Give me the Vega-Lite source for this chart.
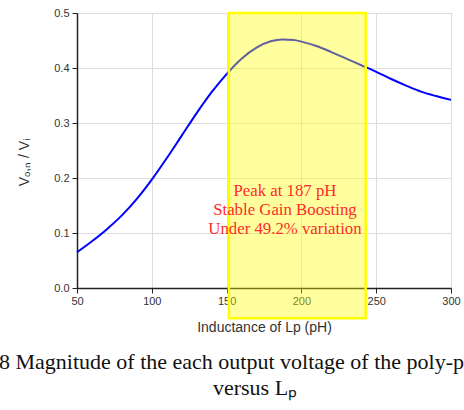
{
  "$schema": "https://vega.github.io/schema/vega-lite/v6.json",
  "width": 374,
  "height": 275,
  "autosize": {"type": "none"},
  "padding": {"left": 77, "top": 13, "right": 13, "bottom": 122},
  "background": "white",
  "config": {
    "view": {"stroke": "#888888", "strokeWidth": 1},
    "axis": {"labelFont": "Liberation Sans", "titleFont": "Liberation Sans", "labelColor": "#333333", "titleColor": "#333333", "labelFontSize": 11, "titleFontSize": 14, "titleFontWeight": "normal", "gridColor": "#dddddd", "gridWidth": 1, "domainColor": "#222222", "domainWidth": 1.5, "tickColor": "#222222", "tickWidth": 1, "labelFlush": false}
  },
  "title": {
    "text": ["Fig. 8 Magnitude of the each output voltage of the poly-phase filter", "versus Lₚ"],
    "orient": "bottom",
    "anchor": "middle",
    "font": "Liberation Serif",
    "fontSize": 22,
    "fontWeight": "normal",
    "color": "#111111",
    "lineHeight": 26,
    "offset": 18,
    "dx": -9
  },
  "datasets": {
    "curve": [
      {"L": 50, "V": 0.065}, {"L": 60, "V": 0.085}, {"L": 70, "V": 0.107}, {"L": 80, "V": 0.132},
      {"L": 90, "V": 0.162}, {"L": 100, "V": 0.197}, {"L": 110, "V": 0.236}, {"L": 120, "V": 0.277},
      {"L": 130, "V": 0.318}, {"L": 140, "V": 0.356}, {"L": 150, "V": 0.389}, {"L": 160, "V": 0.417},
      {"L": 170, "V": 0.437}, {"L": 180, "V": 0.449}, {"L": 187, "V": 0.452}, {"L": 195, "V": 0.451},
      {"L": 200, "V": 0.448}, {"L": 210, "V": 0.44}, {"L": 220, "V": 0.429}, {"L": 230, "V": 0.417},
      {"L": 240, "V": 0.405}, {"L": 250, "V": 0.393}, {"L": 260, "V": 0.38}, {"L": 270, "V": 0.368},
      {"L": 280, "V": 0.357}, {"L": 290, "V": 0.349}, {"L": 300, "V": 0.342}
    ],
    "band": [{"x0": 151.5, "x1": 243, "y0": -0.055, "y1": 0.5}],
    "notes": [
      {"x": 189, "y": 0.167, "t": "Peak at 187 pH"},
      {"x": 189, "y": 0.133, "t": "Stable Gain Boosting"},
      {"x": 189, "y": 0.098, "t": "Under 49.2% variation"}
    ]
  },
  "layer": [
    {
      "data": {"name": "curve"},
      "mark": {"type": "line", "color": "#0000ff", "strokeWidth": 2, "interpolate": "monotone"},
      "encoding": {
        "x": {"field": "L", "type": "quantitative", "scale": {"domain": [50, 300], "nice": false},
          "axis": {"title": "Inductance of Lp (pH)", "values": [50, 75, 100, 125, 150, 175, 200, 225, 250, 275, 300],
            "labelExpr": "datum.value % 50 == 0 ? datum.label : ''", "labelOverlap": false,
            "tickSize": {"condition": {"test": "datum.value % 50 != 0", "value": 3}, "value": 5},
            "gridOpacity": {"condition": {"test": "datum.value % 50 != 0", "value": 0}, "value": 1},
            "labelPadding": 2, "titlePadding": 14}},
        "y": {"field": "V", "type": "quantitative", "scale": {"domain": [0, 0.5], "nice": false},
          "axis": {"title": "Vₒ,ₙ / Vᵢ", "values": [0, 0.05, 0.1, 0.15, 0.2, 0.25, 0.3, 0.35, 0.4, 0.45, 0.5],
            "labelExpr": "abs(datum.value*10 - round(datum.value*10)) < 0.001 ? format(datum.value, '.1f') : ''", "labelOverlap": false,
            "tickSize": {"condition": {"test": "abs(datum.value*10 - round(datum.value*10)) > 0.001", "value": 3}, "value": 5},
            "gridOpacity": {"condition": {"test": "abs(datum.value*10 - round(datum.value*10)) > 0.001", "value": 0}, "value": 1},
            "labelPadding": 3, "titlePadding": 22, "titleY": 149}}
      }
    },
    {
      "data": {"name": "band"},
      "mark": {"type": "rect", "clip": false, "fill": "#ffff00", "fillOpacity": 0.38, "stroke": "#ffff00", "strokeWidth": 2.5},
      "encoding": {
        "x": {"field": "x0", "type": "quantitative"},
        "x2": {"field": "x1"},
        "y": {"field": "y0", "type": "quantitative"},
        "y2": {"field": "y1"}
      }
    },
    {
      "data": {"name": "notes"},
      "mark": {"type": "text", "font": "Liberation Serif", "fontSize": 16.8, "color": "#ff2a2a", "align": "center", "baseline": "alphabetic"},
      "encoding": {
        "x": {"field": "x", "type": "quantitative"},
        "y": {"field": "y", "type": "quantitative"},
        "text": {"field": "t"}
      }
    }
  ]
}
